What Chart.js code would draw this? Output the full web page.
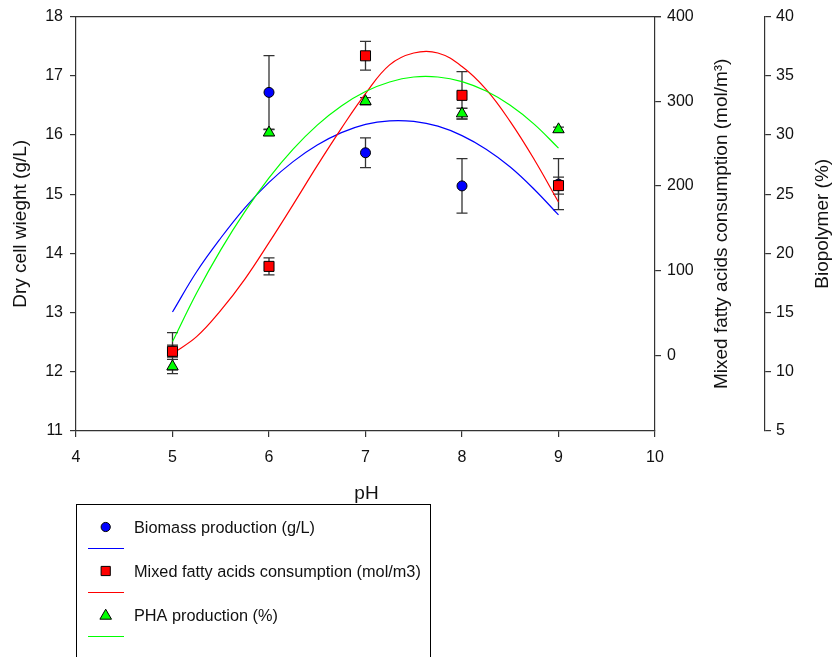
<!DOCTYPE html>
<html><head><meta charset="utf-8">
<script src="https://cdn.jsdelivr.net/npm/chart.js@4"></script>
<style>html,body{margin:0;padding:0;background:#fff}canvas{display:block}</style>
</head><body>
<canvas id="c" width="834" height="657"></canvas>
<script>
// ---- data ----
const phValues   = [5, 6, 7, 8, 9];
const biomass    = [12.35, 16.72, 15.70, 15.14, 15.17];
const biomassErr = [0.10, 0.62, 0.25, 0.46, 0.43];
const mfa        = [4.7, 105, 353.7, 307, 200.4];
const mfaErr     = [22, 10, 17, 28, 10];
const pha        = [10.45, 30.2, 32.85, 31.81, 30.47];
const phaErr     = [0.6, 0.25, 0.3, 0.45, 0.2];

// fitted curves
const curvePh    = [5, 5.25, 5.5, 5.75, 6, 6.25, 6.5, 6.75, 7, 7.25, 7.5, 7.75, 8, 8.25, 8.5, 8.75, 9];
const biomassFit = [13.01, 13.69, 14.26, 14.77, 15.20, 15.55, 15.83, 16.04, 16.18, 16.24, 16.23, 16.15, 15.99, 15.76, 15.46, 15.08, 14.65];
const mfaFit     = [2, 22, 53, 90, 133, 178, 224, 268, 309, 343, 357, 357, 341, 314, 276, 231, 181];
const phaFit     = [12.55, 16.66, 20.30, 23.53, 26.37, 28.80, 30.83, 32.45, 33.67, 34.48, 34.90, 34.90, 34.51, 33.71, 32.51, 30.90, 28.89];

// tick labels
const xTicks   = [4, 5, 6, 7, 8, 9, 10];
const dcwTicks = [11, 12, 13, 14, 15, 16, 17, 18];
const mfaTicks = [0, 100, 200, 300, 400];
const bioTicks = [5, 10, 15, 20, 25, 30, 35, 40];

// texts
const xTitle   = 'pH';
const dcwTitle = 'Dry cell wieght (g/L)';
const mfaTitle = 'Mixed fatty acids consumption (mol/m³)';
const bioTitle = 'Biopolymer (%)';
const legendLabels = ['Biomass production (g/L)', 'Mixed fatty acids consumption (mol/m3)', 'PHA production (%)'];

const BLUE = '#0000ff', RED = '#ff0000', GREEN = '#00ff00';
const FONT = '"Liberation Sans", Arial, Helvetica, sans-serif';
const AXIS = '#333333';

Chart.defaults.font.family = FONT;
Chart.defaults.color = '#111';

const pts = (xs, ys) => xs.map((x, i) => ({x: x, y: ys[i]}));
const fixTicks = arr => (scale) => { scale.ticks = arr.map(v => ({value: v})); };

function axisCommon(extra) {
  return Object.assign({
    grid: {display: true, drawOnChartArea: false, drawTicks: true, tickLength: 6, color: AXIS, lineWidth: 1.2},
    border: {display: true, color: AXIS, width: 1.2},
  }, extra);
}

const extras = {
  id: 'extras',
  beforeDatasetsDraw(chart) {
    const ctx = chart.ctx;
    const xs = chart.scales.x;
    const sets = [
      [biomass, biomassErr, chart.scales.y],
      [mfa, mfaErr, chart.scales.y2],
      [pha, phaErr, chart.scales.y3],
    ];
    ctx.save();
    ctx.strokeStyle = AXIS;
    ctx.lineWidth = 1.3;
    sets.forEach(([vals, errs, ys]) => {
      vals.forEach((v, i) => {
        const px = xs.getPixelForValue(phValues[i]);
        const top = ys.getPixelForValue(v + errs[i]);
        const bot = ys.getPixelForValue(v - errs[i]);
        ctx.beginPath();
        ctx.moveTo(px, top); ctx.lineTo(px, bot);
        ctx.moveTo(px - 5.5, top); ctx.lineTo(px + 5.5, top);
        ctx.moveTo(px - 5.5, bot); ctx.lineTo(px + 5.5, bot);
        ctx.stroke();
      });
    });
    ctx.restore();
  },
  afterDraw(chart) {
    const ctx = chart.ctx;
    const a = chart.chartArea;
    ctx.save();
    // top frame line
    ctx.strokeStyle = AXIS; ctx.lineWidth = 1.2;
    ctx.beginPath(); ctx.moveTo(a.left, a.top); ctx.lineTo(a.right + 6, a.top); ctx.stroke();

    // axis titles
    ctx.fillStyle = '#111';
    ctx.font = '19px ' + FONT;
    ctx.textAlign = 'center'; ctx.textBaseline = 'middle';
    const midY = (a.top + a.bottom) / 2;
    ctx.fillText(xTitle, (a.left + a.right) / 2 + 1, 494);
    [[dcwTitle, 21], [mfaTitle, 722], [bioTitle, 823]].forEach(([t, x]) => {
      ctx.save(); ctx.translate(x, midY); ctx.rotate(-Math.PI / 2);
      ctx.fillText(t, 0, 0); ctx.restore();
    });

    // legend box
    ctx.strokeStyle = '#000'; ctx.lineWidth = 1;
    ctx.strokeRect(76.5, 504.5, 354, 170);
    const mx = 105.7, rows = [527, 571, 615], lineRows = [548.5, 592.5, 636.5];
    const colors = [BLUE, RED, GREEN];
    ctx.font = '16.3px ' + FONT; ctx.textAlign = 'left'; ctx.textBaseline = 'middle';
    rows.forEach((ry, i) => {
      ctx.fillStyle = colors[i]; ctx.strokeStyle = '#000'; ctx.lineWidth = 1;
      ctx.beginPath();
      if (i === 0) ctx.arc(mx, ry, 4.6, 0, Math.PI * 2);
      else if (i === 1) ctx.rect(mx - 4.6, ry - 4.6, 9.2, 9.2);
      else { ctx.moveTo(mx, ry - 5.8); ctx.lineTo(mx + 5.8, ry + 4.2); ctx.lineTo(mx - 5.8, ry + 4.2); ctx.closePath(); }
      ctx.fill(); ctx.stroke();
      ctx.fillStyle = '#111';
      ctx.fillText(legendLabels[i], 134, ry + 1.5);
      ctx.strokeStyle = colors[i]; ctx.lineWidth = 1.2;
      ctx.beginPath(); ctx.moveTo(88, lineRows[i]); ctx.lineTo(124, lineRows[i]); ctx.stroke();
    });
    ctx.restore();
  }
};

new Chart(document.getElementById('c'), {
  data: {
    datasets: [
      {type: 'scatter', label: 'PHA production (%)', data: pts(phValues, pha), yAxisID: 'y3', order: 1,
       pointStyle: 'triangle', pointRadius: 6.6, pointHoverRadius: 6.6, pointBackgroundColor: GREEN, pointBorderColor: '#000', pointBorderWidth: 1, showLine: false},
      {type: 'scatter', label: 'Mixed fatty acids consumption (mol/m3)', data: pts(phValues, mfa), yAxisID: 'y2', order: 2,
       pointStyle: 'rect', pointRadius: 7.1, pointHoverRadius: 7.1, pointBackgroundColor: RED, pointBorderColor: '#000', pointBorderWidth: 1, showLine: false},
      {type: 'scatter', label: 'Biomass production (g/L)', data: pts(phValues, biomass), yAxisID: 'y', order: 3,
       pointStyle: 'circle', pointRadius: 5, pointHoverRadius: 5, pointBackgroundColor: BLUE, pointBorderColor: '#000', pointBorderWidth: 1, showLine: false},
      {type: 'line', label: 'Biomass fit', data: pts(curvePh, biomassFit), yAxisID: 'y', order: 6,
       borderColor: BLUE, borderWidth: 1.2, pointRadius: 0, tension: 0.4, fill: false},
      {type: 'line', label: 'MFA fit', data: pts(curvePh, mfaFit), yAxisID: 'y2', order: 5,
       borderColor: RED, borderWidth: 1.2, pointRadius: 0, tension: 0.4, fill: false},
      {type: 'line', label: 'PHA fit', data: pts(curvePh, phaFit), yAxisID: 'y3', order: 4,
       borderColor: GREEN, borderWidth: 1.2, pointRadius: 0, tension: 0.4, fill: false},
    ]
  },
  options: {
    responsive: false,
    animation: false,
    devicePixelRatio: 1,
    events: [],
    layout: {padding: {top: 15, left: 0, right: 0, bottom: 0}},
    plugins: {legend: {display: false}, tooltip: {enabled: false}},
    scales: {
      x: axisCommon({type: 'linear', position: 'bottom', min: 4, max: 10,
        afterBuildTicks: fixTicks(xTicks),
        afterFit: s => { s.height = 226; },
        ticks: {font: {size: 16}, padding: 11, color: '#111'}}),
      y: axisCommon({type: 'linear', position: 'left', min: 11, max: 18,
        afterBuildTicks: fixTicks(dcwTicks),
        afterFit: s => { s.width = 76; },
        ticks: {font: {size: 16}, padding: 7, color: '#111'}}),
      y2: axisCommon({type: 'linear', position: 'right', min: -89.4, max: 400, weight: 0,
        afterBuildTicks: fixTicks(mfaTicks),
        afterFit: s => { s.width = 110; },
        ticks: {font: {size: 16}, padding: 6, color: '#111'}}),
      y3: axisCommon({type: 'linear', position: 'right', min: 5, max: 40, weight: 1,
        afterBuildTicks: fixTicks(bioTicks),
        afterFit: s => { s.width = 69; },
        ticks: {font: {size: 16}, padding: 5, color: '#111'}}),
    }
  },
  plugins: [extras]
});
</script>
</body></html>
